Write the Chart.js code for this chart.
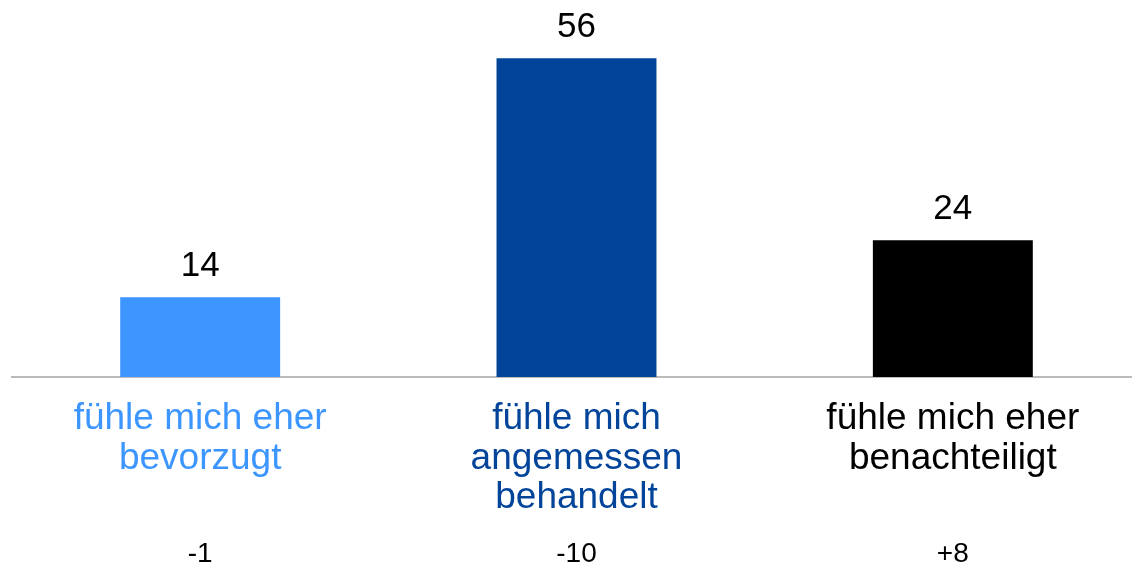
<!DOCTYPE html>
<html>
<head>
<meta charset="utf-8">
<script src="https://cdn.jsdelivr.net/npm/chart.js@4/dist/chart.umd.min.js"></script>
<style>
  html, body { margin: 0; padding: 0; background: #fff; overflow: hidden; }
  #wrap { width: 1141px; height: 566px; }
</style>
</head>
<body>
<div id="wrap"><canvas id="grafik"></canvas></div>
<script>
const kategorien = [
    ['fühle mich eher', 'bevorzugt'],
    ['fühle mich', 'angemessen', 'behandelt'],
    ['fühle mich eher', 'benachteiligt']
];
const werte = [14, 56, 24];
const veraenderung = ['-1', '-10', '+8'];
const farben = ['#3d96ff', '#02449a', '#000000'];

const schrift = 'Liberation Sans, Arial, sans-serif';

// Werte über den Balken und Veränderungen unten
const beschriftung = {
    id: 'beschriftung',
    afterDatasetsDraw(chart) {
        const ctx = chart.ctx;
        const meta = chart.getDatasetMeta(0);
        const xAchse = chart.scales.x;
        ctx.save();
        ctx.fillStyle = '#000';
        ctx.textAlign = 'center';
        ctx.textBaseline = 'alphabetic';
        ctx.font = '35px ' + schrift;
        meta.data.forEach((bar, i) => {
            ctx.fillText(String(werte[i]), bar.x, bar.y - 21);
        });
        ctx.font = '28px ' + schrift;
        veraenderung.forEach((v, i) => {
            ctx.fillText(v, xAchse.getPixelForValue(i), 562);
        });
        ctx.restore();
    }
};

new Chart(document.getElementById('grafik'), {
    type: 'bar',
    data: {
        labels: kategorien,
        datasets: [{
            data: werte,
            backgroundColor: farben,
            borderWidth: 0,
            categoryPercentage: 1,
            barPercentage: 0.425
        }]
    },
    options: {
        responsive: true,
        maintainAspectRatio: false,
        animation: false,
        layout: { padding: { top: 24, left: 12, right: 0, bottom: 0 } },
        plugins: {
            legend: { display: false },
            tooltip: { enabled: false }
        },
        scales: {
            x: {
                grid: { display: false, drawTicks: false },
                border: { display: true, color: '#bbbbbb', width: 2 },
                afterFit: (scale) => { scale.height = 189; },
                ticks: {
                    padding: 22,
                    maxRotation: 0,
                    autoSkip: false,
                    color: (c) => farben[c.index],
                    font: { family: schrift, size: 37, lineHeight: 1.07 }
                }
            },
            y: {
                display: false,
                min: 0,
                max: 62
            }
        }
    },
    plugins: [beschriftung]
});
</script>
</body>
</html>
